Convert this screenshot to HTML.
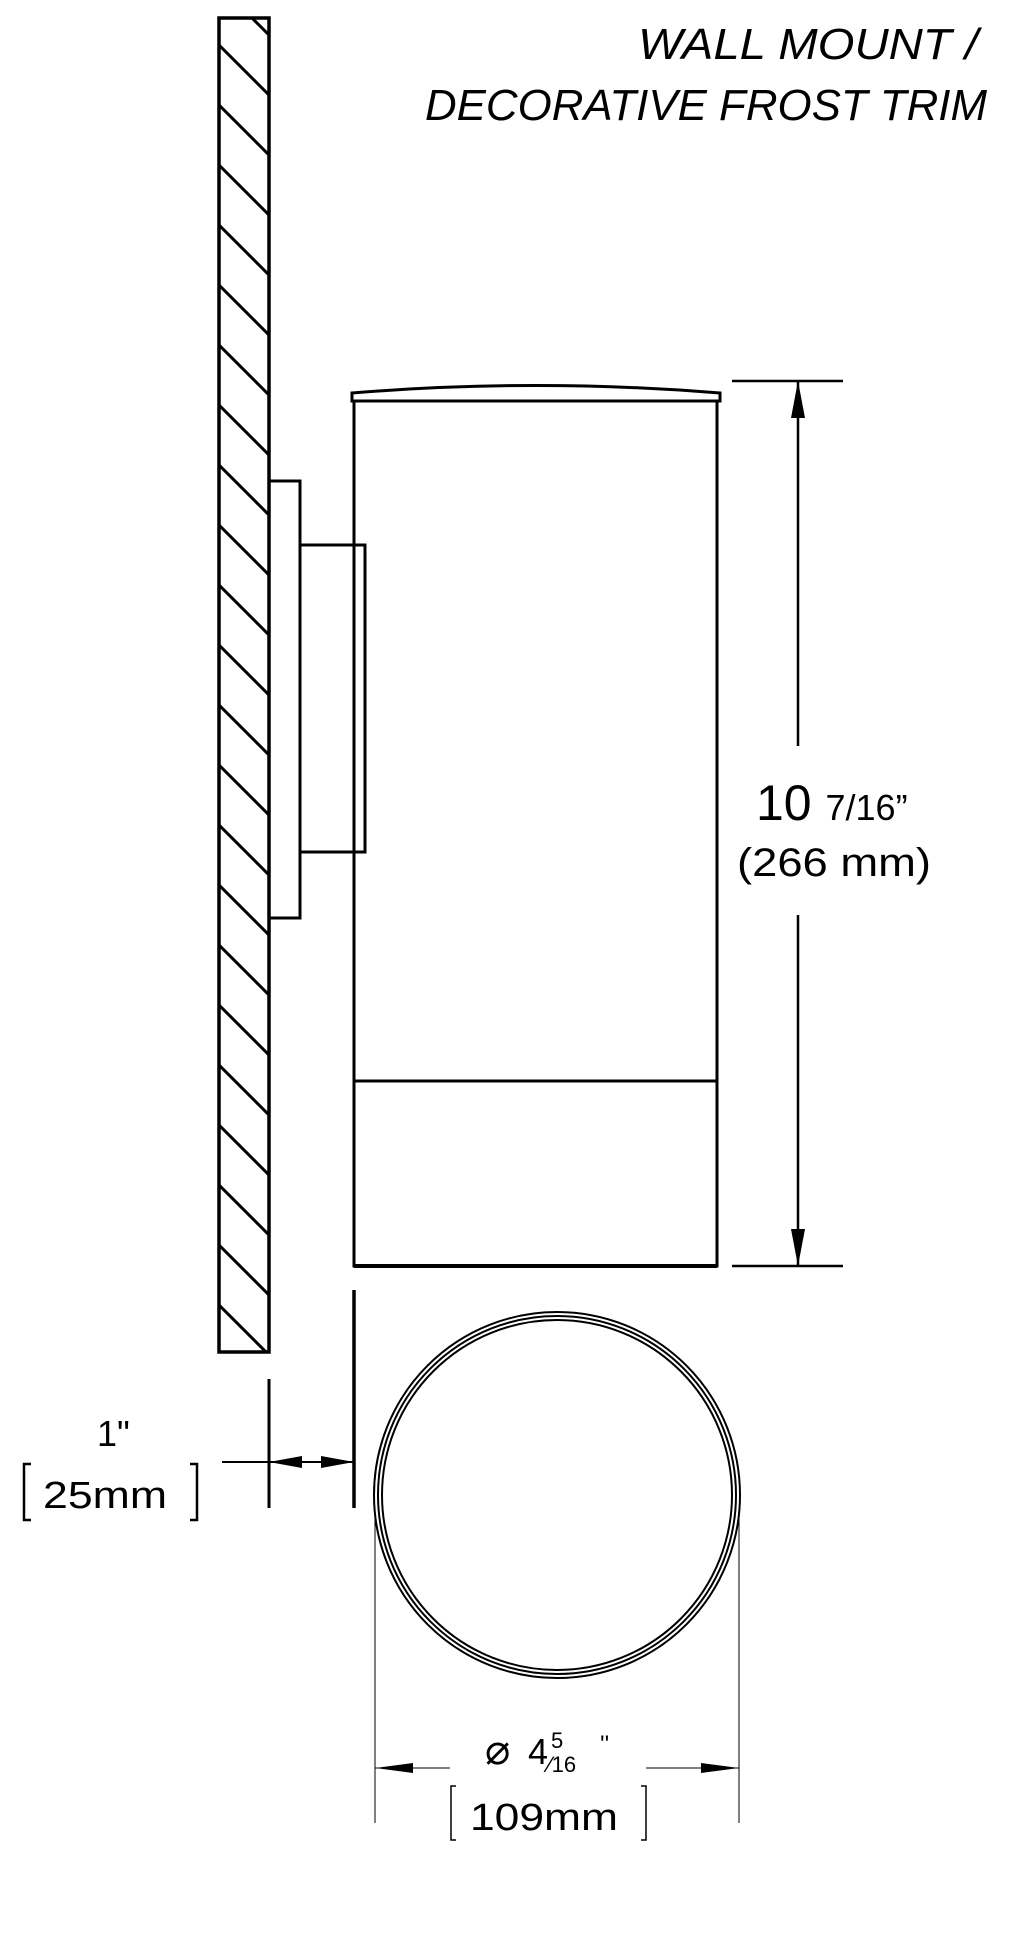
<!DOCTYPE html>
<html><head><style>html,body{margin:0;padding:0;background:#fff}svg{display:block}</style></head>
<body>
<svg width="1019" height="1938" viewBox="0 0 1019 1938" xmlns="http://www.w3.org/2000/svg" font-family="Liberation Sans, sans-serif">
<defs><clipPath id="w"><rect x="219" y="18" width="50" height="1334"/></clipPath></defs>
<g clip-path="url(#w)" stroke="#000" stroke-width="3" fill="none">
<path d="
M219,-15 l60,60 M219,45 l60,60 M219,105 l60,60 M219,165 l60,60 M219,225 l60,60 M219,285 l60,60 M219,345 l60,60 M219,405 l60,60 M219,465 l60,60 M219,525 l60,60 M219,585 l60,60 M219,645 l60,60 M219,705 l60,60 M219,765 l60,60 M219,825 l60,60 M219,885 l60,60 M219,945 l60,60 M219,1005 l60,60 M219,1065 l60,60 M219,1125 l60,60 M219,1185 l60,60 M219,1245 l60,60 M219,1305 l60,60"/>
</g>
<rect x="219" y="18" width="50" height="1334" fill="none" stroke="#000" stroke-width="3.5"/>
<g fill="none" stroke="#000" stroke-width="3">
<rect x="269" y="481" width="31" height="437"/>
<rect x="300" y="545" width="65" height="307"/>
<path d="M354,401 L354,1266 L717,1266 L717,401"/>
<path d="M352,393 Q536,378 720,393 L720,401 L352,401 Z"/>
<line x1="354" y1="1081" x2="717" y2="1081"/>
<line x1="354" y1="1266" x2="717" y2="1266" stroke-width="4"/>
<line x1="732" y1="381" x2="843" y2="381" stroke-width="2.5"/>
<line x1="732" y1="1266" x2="843" y2="1266" stroke-width="2.5"/>
<line x1="798" y1="381" x2="798" y2="746" stroke-width="2.5"/>
<line x1="798" y1="915" x2="798" y2="1266" stroke-width="2.5"/>
<line x1="354" y1="1290" x2="354" y2="1508" stroke-width="3.5"/>
<line x1="269" y1="1379" x2="269" y2="1508" stroke-width="3"/>
<line x1="222" y1="1462" x2="354" y2="1462" stroke-width="2"/>
<circle cx="557" cy="1495" r="183" stroke-width="2"/>
<circle cx="557" cy="1495" r="179" stroke-width="2"/>
<circle cx="557" cy="1495" r="175" stroke-width="2"/>
<line x1="375" y1="1517" x2="375" y2="1823" stroke-width="1"/>
<line x1="739" y1="1517" x2="739" y2="1823" stroke-width="1"/>
<line x1="375" y1="1768" x2="450" y2="1768" stroke-width="1"/>
<line x1="646" y1="1768" x2="739" y2="1768" stroke-width="1"/>
<path d="M456,1786 h-5 v54 h5 M641,1786 h5 v54 h-5" stroke-width="1.5"/>
<path d="M31,1464 h-7 v56 h7 M190,1464 h7 v56 h-7" stroke-width="2.5"/>
</g>
<g fill="#000">
<path d="M798,381 L791,418 L805,418 Z"/>
<path d="M798,1266 L791,1229 L805,1229 Z"/>
<path d="M269,1462 L302,1456 L302,1468 Z"/>
<path d="M354,1462 L321,1456 L321,1468 Z"/>
<path d="M375,1768 L413,1763 L413,1773 Z"/>
<path d="M739,1768 L701,1763 L701,1773 Z"/>
</g>
<g font-style="italic" font-size="44" text-anchor="end">
<text x="978" y="59" textLength="340" lengthAdjust="spacingAndGlyphs">WALL MOUNT /</text>
<text x="987" y="120" textLength="562" lengthAdjust="spacingAndGlyphs">DECORATIVE FROST TRIM</text>
</g>
<text x="756" y="820" font-size="50">10 <tspan font-size="36">7/16”</tspan></text>
<text x="737" y="876" font-size="40" textLength="194" lengthAdjust="spacingAndGlyphs">(266 mm)</text>
<text x="97" y="1446" font-size="36">1"</text>
<text x="43" y="1508" font-size="38" textLength="124" lengthAdjust="spacingAndGlyphs">25mm</text>
<text x="485" y="1764" font-size="42">⌀</text>
<text x="528" y="1764" font-size="36">4</text>
<text x="551" y="1748" font-size="22">5</text>
<text x="548" y="1772" font-size="22">⁄16</text>
<text x="600" y="1752" font-size="24">''</text>
<text x="470" y="1830" font-size="38" textLength="148" lengthAdjust="spacingAndGlyphs">109mm</text>
</svg>
</body></html>
